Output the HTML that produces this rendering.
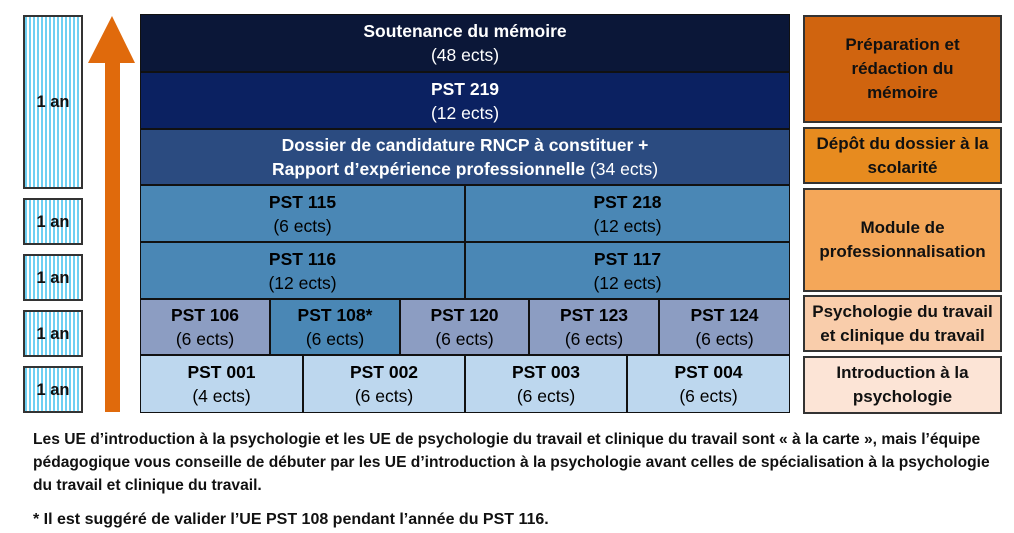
<!DOCTYPE html>
<html><head><meta charset="utf-8"><style>
body{margin:0;width:1014px;height:533px;background:#fff;position:relative;overflow:hidden;font-family:"Liberation Sans",sans-serif;font-weight:bold;}
.b{position:absolute;box-sizing:border-box;display:flex;align-items:center;justify-content:center;text-align:center;font-size:17.5px;line-height:24px;}
.w{color:#fff}
.n{font-weight:normal}
.an{background:repeating-linear-gradient(90deg,#6fd0f2 0 2px,#fff 2px 4px);border:2px solid #333;color:#111;font-size:16.5px}
.r{border:2px solid #333;color:#111;font-size:17px;line-height:24px}
.t{position:absolute;left:33px;color:#111;line-height:23px;white-space:nowrap}
</style></head><body>
<div class="b an" style="left:23px;top:15px;width:60px;height:174px"><div>1 an</div></div>
<div class="b an" style="left:23px;top:198px;width:60px;height:47px"><div>1 an</div></div>
<div class="b an" style="left:23px;top:254px;width:60px;height:47px"><div>1 an</div></div>
<div class="b an" style="left:23px;top:310px;width:60px;height:47px"><div>1 an</div></div>
<div class="b an" style="left:23px;top:366px;width:60px;height:47px"><div>1 an</div></div>
<svg style="position:absolute;left:0;top:0" width="150" height="420"><polygon points="112,16 135,63 120,63 120,412 105,412 105,63 88,63" fill="#e06a0c"/></svg>

<div style="position:absolute;left:140px;top:14px;width:650px;height:399px;background:#111"></div>
<div class="b w" style="left:141px;top:15px;width:648px;height:56px;background:#0b1738"><div>Soutenance du mémoire<br><span class="n">(48 ects)</span></div></div>
<div class="b w" style="left:141px;top:73px;width:648px;height:55px;background:#0b2161"><div>PST 219<br><span class="n">(12 ects)</span></div></div>
<div class="b w" style="left:141px;top:130px;width:648px;height:54px;background:#2b4b80"><div>Dossier de candidature RNCP à constituer +<br>Rapport d’expérience professionnelle <span class="n">(34 ects)</span></div></div>
<div class="b" style="left:141px;top:186px;width:323px;height:55px;background:#4a87b5"><div>PST 115<br><span class="n">(6 ects)</span></div></div>
<div class="b" style="left:466px;top:186px;width:323px;height:55px;background:#4a87b5"><div>PST 218<br><span class="n">(12 ects)</span></div></div>
<div class="b" style="left:141px;top:243px;width:323px;height:55px;background:#4a87b5"><div>PST 116<br><span class="n">(12 ects)</span></div></div>
<div class="b" style="left:466px;top:243px;width:323px;height:55px;background:#4a87b5"><div>PST 117<br><span class="n">(12 ects)</span></div></div>
<div class="b" style="left:141px;top:300px;width:128px;height:54px;background:#8c9dc2"><div>PST 106<br><span class="n">(6 ects)</span></div></div>
<div class="b" style="left:271px;top:300px;width:128px;height:54px;background:#4a87b5"><div>PST 108*<br><span class="n">(6 ects)</span></div></div>
<div class="b" style="left:401px;top:300px;width:127px;height:54px;background:#8c9dc2"><div>PST 120<br><span class="n">(6 ects)</span></div></div>
<div class="b" style="left:530px;top:300px;width:128px;height:54px;background:#8c9dc2"><div>PST 123<br><span class="n">(6 ects)</span></div></div>
<div class="b" style="left:660px;top:300px;width:129px;height:54px;background:#8c9dc2"><div>PST 124<br><span class="n">(6 ects)</span></div></div>
<div class="b" style="left:141px;top:356px;width:161px;height:56px;background:#bdd7ee"><div>PST 001<br><span class="n">(4 ects)</span></div></div>
<div class="b" style="left:304px;top:356px;width:160px;height:56px;background:#bdd7ee"><div>PST 002<br><span class="n">(6 ects)</span></div></div>
<div class="b" style="left:466px;top:356px;width:160px;height:56px;background:#bdd7ee"><div>PST 003<br><span class="n">(6 ects)</span></div></div>
<div class="b" style="left:628px;top:356px;width:161px;height:56px;background:#bdd7ee"><div>PST 004<br><span class="n">(6 ects)</span></div></div>

<div class="b r" style="left:803px;top:15px;width:199px;height:108px;background:#d0640f"><div>Préparation et<br>rédaction du<br>mémoire</div></div>
<div class="b r" style="left:803px;top:127px;width:199px;height:57px;background:#e78b1f"><div>Dépôt du dossier à la<br>scolarité</div></div>
<div class="b r" style="left:803px;top:188px;width:199px;height:104px;background:#f4a759"><div>Module de<br>professionnalisation</div></div>
<div class="b r" style="left:803px;top:295px;width:199px;height:57px;background:#f9cdab"><div>Psychologie du travail<br>et clinique du travail</div></div>
<div class="b r" style="left:803px;top:356px;width:199px;height:58px;background:#fce4d6"><div>Introduction à la<br>psychologie</div></div>

<div class="t" style="top:428px;font-size:15.6px">Les UE d’introduction à la psychologie et les UE de psychologie du travail et clinique du travail sont « à la carte », mais l’équipe<br>pédagogique vous conseille de débuter par les UE d’introduction à la psychologie avant celles de spécialisation à la psychologie<br>du travail et clinique du travail.</div>
<div class="t" style="top:508px;font-size:16px">* Il est suggéré de valider l’UE PST 108 pendant l’année du PST 116.</div>
</body></html>
